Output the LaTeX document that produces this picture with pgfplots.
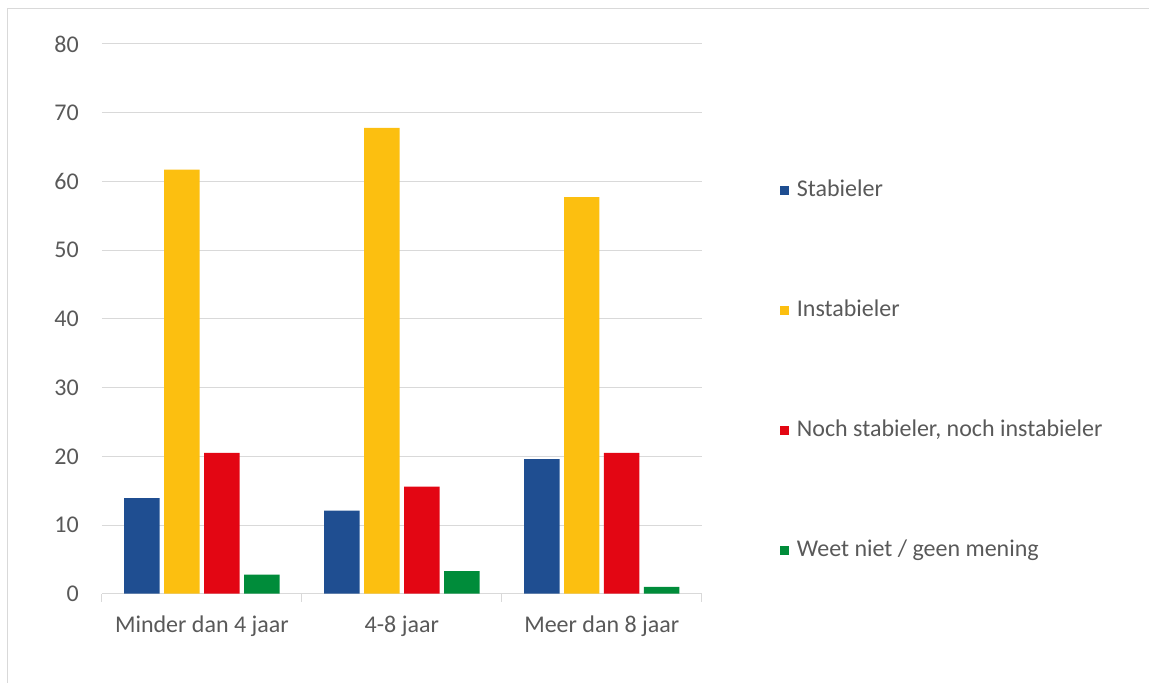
\documentclass[border=0pt]{standalone}
\usepackage{pgfplots}
\pgfplotsset{compat=1.18}
\usepackage{fontspec}
\setmainfont{Carlito}

\definecolor{cblue}{HTML}{1F4E91}
\definecolor{cyellow}{HTML}{FCBF10}
\definecolor{cred}{HTML}{E30613}
\definecolor{cgreen}{HTML}{008C3A}
\definecolor{gridgray}{HTML}{D9D9D9}
\definecolor{textgray}{HTML}{595959}

\pgfplotsset{
  mybar/.style={fill=#1, draw=none,
    legend image code/.code={\fill[#1] (0pt,-4.5pt) rectangle (9pt,4.5pt);}},
}

\begin{document}
\begin{tikzpicture}
\begin{axis}[
    name=ax,
    scale only axis,
    width=600pt, height=550pt,
    xmin=-0.5, xmax=2.5, ymin=0, ymax=80,
    ybar, bar width=0.1775,
    ytick={0,10,...,80},
    xtick={0,1,2},
    xticklabels={Minder dan 4 jaar, 4-8 jaar, Meer dan 8 jaar},
    extra x ticks={-0.5,0.5,1.5,2.5},
    extra x tick labels={},
    extra x tick style={major tick length=8pt, tick align=outside,
      xtick style={draw=gridgray, line width=1pt}},
    major tick length=0pt,
    axis x line*=bottom, axis y line*=left,
    x axis line style={draw=gridgray, line width=1.5pt, -},
    y axis line style={draw=none},
    ytick style={draw=none},
    ymajorgrids,
    grid style={gridgray, line width=1pt},
    /pgf/number format/assume math mode=true,
    ticklabel style={font=\fontsize{24}{29}\selectfont, text=textgray, inner sep=0pt},
    yticklabel style={anchor=east, xshift=-23pt},
    xticklabel style={anchor=north, yshift=-22pt},
    legend cell align=left,
    legend style={at={(1.13,0.4055)}, anchor=west, draw=none, fill=none,
      inner sep=0pt, row sep=98pt, column sep=8pt,
      font=\fontsize{24}{29}\selectfont, text=textgray,
      nodes={inner sep=0pt, text height=17pt, text depth=5pt}},
    clip=false,
  ]
  \addplot[mybar=cblue, bar shift=-0.3] coordinates {(0,13.9) (1,12.1) (2,19.6)};
  \addlegendentry{Stabieler}
  \addplot[mybar=cyellow, bar shift=-0.1] coordinates {(0,61.7) (1,67.8) (2,57.7)};
  \addlegendentry{Instabieler}
  \addplot[mybar=cred, bar shift=0.1] coordinates {(0,20.5) (1,15.6) (2,20.5)};
  \addlegendentry{Noch stabieler, noch instabieler}
  \addplot[mybar=cgreen, bar shift=0.3] coordinates {(0,2.8) (1,3.3) (2,1.0)};
  \addlegendentry{Weet niet / geen mening}
\end{axis}
\draw[gridgray, line width=1pt]
  ([shift={(-94pt,-89pt)}]ax.south west) |- ([shift={(447pt,35pt)}]ax.north east);
\path[use as bounding box]
  ([shift={(-102pt,-89pt)}]ax.south west) rectangle ([shift={(447pt,44pt)}]ax.north east);
\end{tikzpicture}
\end{document}
